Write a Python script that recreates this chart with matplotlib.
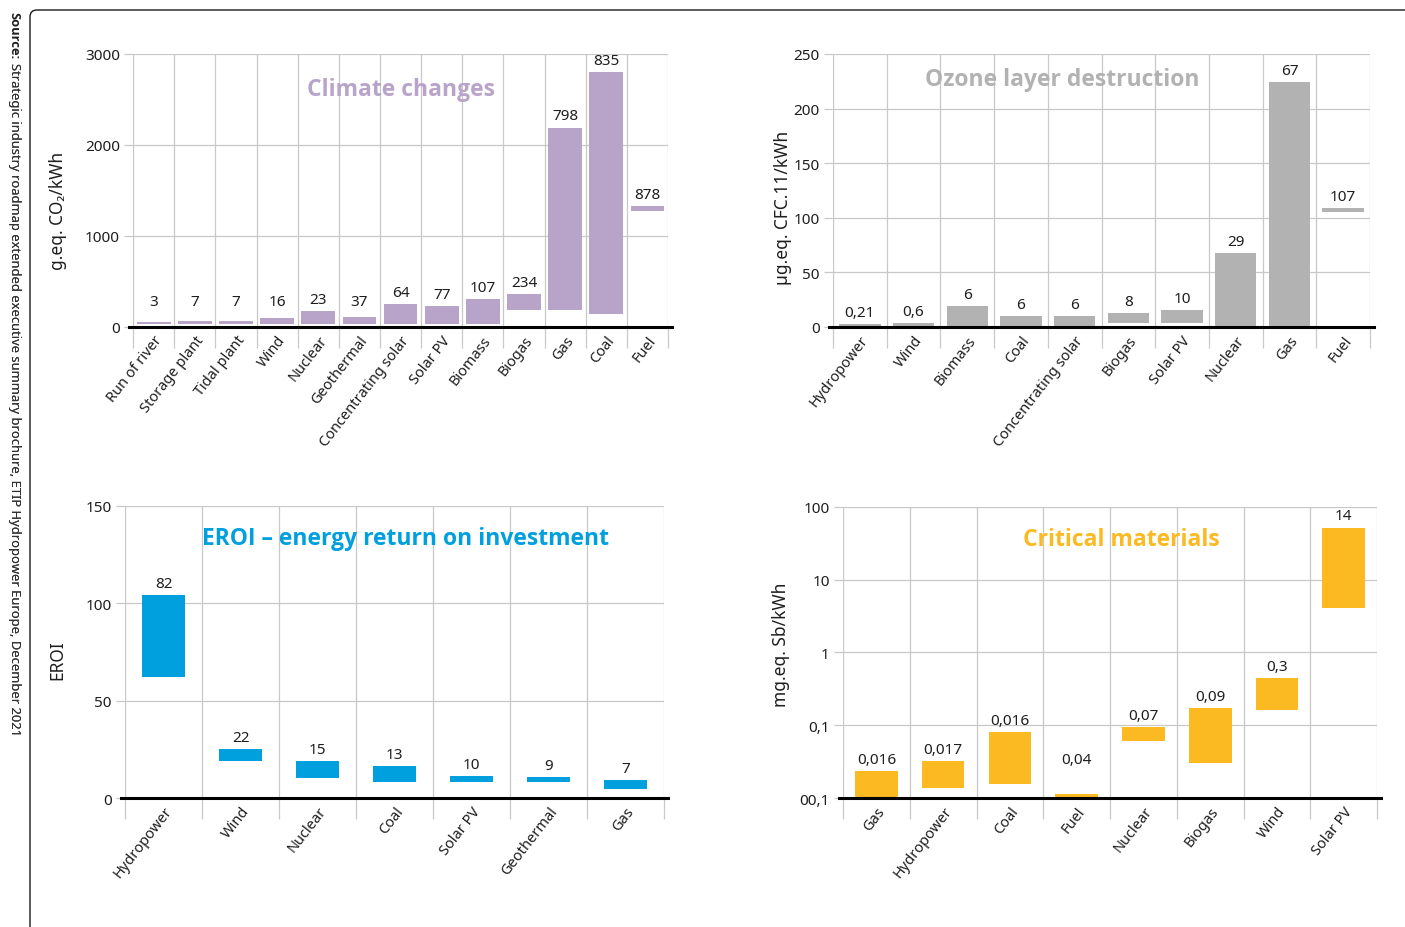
import matplotlib
matplotlib.use("Agg")
import matplotlib.pyplot as plt
from matplotlib import font_manager
from matplotlib.patches import FancyBboxPatch
from matplotlib.ticker import NullLocator

FONT = ['Noto Sans', 'DejaVu Sans']
plt.rcParams['font.family'] = FONT

# pick a family that really has a bold face installed
BOLD = 'DejaVu Sans'
for fam in ['Open Sans', 'Noto Sans', 'Lato', 'Roboto']:
    if any(f.name == fam and f.weight in (700, 'bold') for f in font_manager.fontManager.ttflist):
        BOLD = fam
        break

# Climate changes (g.eq. CO2/kWh)
cc_cats = ['Run of river', 'Storage plant', 'Tidal plant', 'Wind', 'Nuclear', 'Geothermal',
           'Concentrating solar', 'Solar PV', 'Biomass', 'Biogas', 'Gas', 'Coal', 'Fuel']
cc_low = [37, 36, 36, 36, 36, 36, 36, 36, 36, 184, 184, 140, 1272]
cc_high = [58, 69, 69, 102, 176, 107, 251, 229, 306, 362, 2190, 2800, 1324]
cc_labels = ['3', '7', '7', '16', '23', '37', '64', '77', '107', '234', '798', '835', '878']

# Ozone layer destruction (µg.eq. CFC.11/kWh)
oz_cats = ['Hydropower', 'Wind', 'Biomass', 'Coal', 'Concentrating solar', 'Biogas',
           'Solar PV', 'Nuclear', 'Gas', 'Fuel']
oz_low = [0.5, 0.5, 0.5, 0.5, 0.5, 3.7, 3.7, 0.5, 0.5, 105]
oz_high = [2.5, 3.7, 19.3, 10, 10, 12.6, 15.3, 67.8, 224, 109]
oz_labels = ['0,21', '0,6', '6', '6', '6', '8', '10', '29', '67', '107']

# EROI
er_cats = ['Hydropower', 'Wind', 'Nuclear', 'Coal', 'Solar PV', 'Geothermal', 'Gas']
er_low = [62.3, 19.2, 10.4, 8.4, 8.4, 8.4, 4.8]
er_high = [104.3, 25.2, 19, 16.4, 11.3, 10.8, 9.2]
er_labels = ['82', '22', '15', '13', '10', '9', '7']

# Critical materials (mg.eq. Sb/kWh)
cm_cats = ['Gas', 'Hydropower', 'Coal', 'Fuel', 'Nuclear', 'Biogas', 'Wind', 'Solar PV']
cm_low = [0.01, 0.0139, 0.0157, 0.01, 0.0608, 0.0306, 0.164, 4.03]
cm_high = [0.0235, 0.0323, 0.081, 0.0114, 0.0948, 0.173, 0.448, 52]
cm_labels = ['0,016', '0,017', '0,016', '0,04', '0,07', '0,09', '0,3', '14']

GRID = '#c8c8c8'
TXT = '#1e1e1e'


def panel(rect, cats, low, high, labels, color, width, title, tpos, ylab, ypos,
          yticks, yticklabels, floor, log=False):
    ax = fig.add_axes(rect)
    n = len(cats)
    x = list(range(n))
    heights = [h - l for l, h in zip(low, high)]
    ax.bar(x, heights, bottom=low, width=width, color=color, zorder=3)
    if log:
        ax.set_yscale('log')
        ax.yaxis.set_minor_locator(NullLocator())
    ax.set_ylim(yticks[0], yticks[-1])
    ax.set_xlim(-0.5, n - 0.5)
    ax.set_yticks(yticks)
    ax.set_yticklabels(yticklabels)
    ax.set_xticks(x)
    ax.set_xticklabels(cats, rotation=52, ha='right', rotation_mode='anchor',
                       fontsize=10.5, color=TXT)
    ax.set_xticks([i - 0.5 for i in range(n + 1)], minor=True)
    ax.tick_params(axis='x', which='major', length=0, pad=4)
    ax.tick_params(axis='x', which='minor', length=15, color=GRID, width=0.9)
    ax.tick_params(axis='y', length=6.5, color=GRID, width=0.9, labelsize=11,
                   labelcolor=TXT, pad=3)
    ax.grid(which='major', axis='y', color=GRID, lw=0.9, zorder=0)
    ax.grid(which='minor', axis='x', color=GRID, lw=0.9, zorder=0)
    for s in ax.spines.values():
        s.set_visible(False)
    ax.plot([-0.008, 1.008], [yticks[0], yticks[0]], color='black', lw=2.2,
            transform=ax.get_yaxis_transform(), clip_on=False, zorder=4)
    for xi, h, lab in zip(x, high, labels):
        ax.annotate(lab, (xi, max(h, floor)), xytext=(0, 3), textcoords='offset points',
                    ha='center', va='bottom', fontsize=11, color=TXT)
    ax.text(tpos[0], tpos[1], title, transform=ax.transAxes, ha='center', va='center',
            fontsize=16.5, fontweight='bold', family=[BOLD, 'DejaVu Sans'], color=color)
    ax.text(ypos[0], ypos[1], ylab, transform=ax.transAxes, ha='center', va='center',
            rotation=90, fontsize=12.5, color=TXT)
    return ax


fig = plt.figure(figsize=(14.05, 9.28), dpi=100)

panel([0.0947, 0.6466, 0.3808, 0.2942], cc_cats, cc_low, cc_high, cc_labels,
      '#b9a4c9', 0.82, 'Climate changes', (0.50, 0.871),
      'g.eq. CO₂/kWh', (-0.140, 0.43),
      [0, 1000, 2000, 3000], ['0', '1000', '2000', '3000'], 150)

panel([0.5929, 0.6466, 0.3822, 0.2942], oz_cats, oz_low, oz_high, oz_labels,
      '#b2b2b2', 0.77, 'Ozone layer destruction', (0.426, 0.908),
      'µg.eq. CFC.11/kWh', (-0.093, 0.441),
      [0, 50, 100, 150, 200, 250], ['0', '50', '100', '150', '200', '250'], 3)

panel([0.0890, 0.1390, 0.3836, 0.3147], er_cats, er_low, er_high, er_labels,
      '#00a0df', 0.57, 'EROI – energy return on investment', (0.521, 0.890),
      'EROI', (-0.126, 0.476),
      [0, 50, 100, 150], ['0', '50', '100', '150'], 0)

panel([0.6000, 0.1390, 0.3801, 0.3136], cm_cats, cm_low, cm_high, cm_labels,
      '#fbba22', 0.64, 'Critical materials', (0.522, 0.890),
      'mg.eq. Sb/kWh', (-0.116, 0.529),
      [0.01, 0.1, 1, 10, 100], ['00,1', '0,1', '1', '10', '100'], 0.0235, log=True)

# frame with rounded top-left corner
frame = FancyBboxPatch((0.30, -1.0), 20, 9.17 + 1.0, boxstyle='round,pad=0,rounding_size=0.07',
                       transform=fig.dpi_scale_trans, facecolor='none', edgecolor='#1a1a1a',
                       lw=1.0)
fig.add_artist(frame)

src = fig.text(14 / 1405, 1 - 12 / 928, 'Source:', rotation=-90, ha='center', va='top',
               fontsize=9.3, fontweight='bold', family=[BOLD, 'DejaVu Sans'], color=TXT)
fig.add_artist(plt.annotate(
    'Strategic industry roadmap extended executive summary brochure, '
    'ETIP Hydropower Europe, December 2021', xy=(0.5, 0), xycoords=src,
    xytext=(0, -3), textcoords='offset points', rotation=-90,
    ha='center', va='top', fontsize=9.3, color='#333333', annotation_clip=False))

fig.savefig('out.png', dpi=100)
